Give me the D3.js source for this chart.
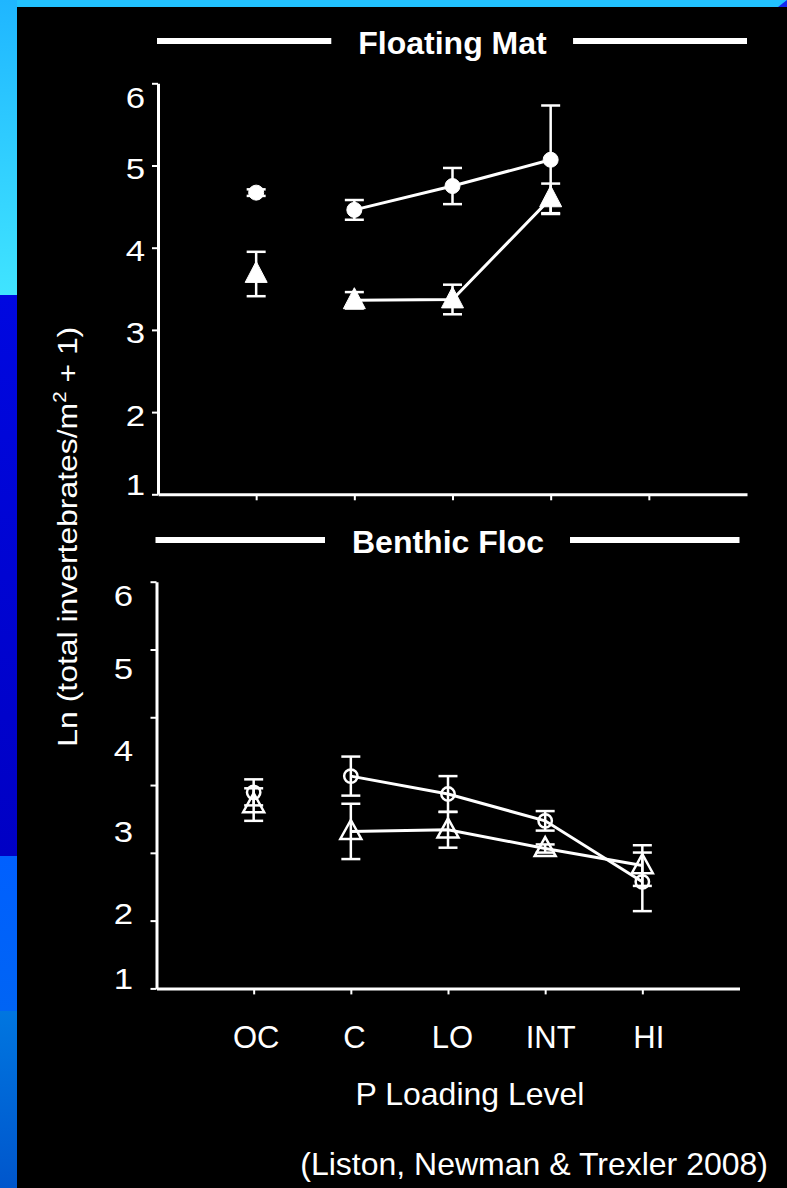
<!DOCTYPE html>
<html>
<head>
<meta charset="utf-8">
<script src="https://cdn.jsdelivr.net/npm/d3@7"></script>
<style>
  html, body { margin: 0; padding: 0; background: #000; }
  svg { display: block; }
  text { font-family: "Liberation Sans", Arial, Helvetica, sans-serif; fill: #fff; }
</style>
</head>
<body>
<svg id="chart" width="787" height="1188"></svg>
<script>
// ---------------- data ----------------
const categories = ["OC", "C", "LO", "INT", "HI"];
const yTickLabels = [1, 2, 3, 4, 5, 6];

// Floating Mat (filled symbols)
const matCircle      = [4.67, 4.46, 4.75, 5.07, null];
const matCircleErr   = [0.04, 0.12, 0.22, 0.66, null];
const matTriangle    = [3.68, 3.36, 3.37, 4.60, null];
const matTriangleErr = [0.27, 0.10, 0.18, 0.18, null];

// Benthic Floc (open symbols)
const flocCircle      = [3.41, 3.61, 3.39, 3.06, 2.31];
const flocCircleErr   = [0.16, 0.24, 0.22, 0.12, 0.36];
const flocTriangle    = [3.26, 2.93, 2.95, 2.72, 2.51];
const flocTriangleErr = [0.20, 0.34, 0.22, 0.05, 0.25];

const panelTitles = ["Floating Mat", "Benthic Floc"];
const xAxisTitle = "P Loading Level";
const citation = "(Liston, Newman & Trexler 2008)";

// ---------------- drawing ----------------
const W = 787, H = 1188;
const svg = d3.select("#chart");

// background
svg.append("rect").attr("x", 0).attr("y", 0).attr("width", W).attr("height", H).attr("fill", "#000");
const defs = svg.append("defs");
function vgrad(id, c1, c2) {
  const g = defs.append("linearGradient").attr("id", id).attr("x1", 0).attr("y1", 0).attr("x2", 0).attr("y2", 1);
  g.append("stop").attr("offset", "0%").attr("stop-color", c1);
  g.append("stop").attr("offset", "100%").attr("stop-color", c2);
}
vgrad("g1", "#1fb6ff", "#40e4ff");
vgrad("g2", "#0008e0", "#0000c4");
vgrad("g3", "#0060ff", "#0064f4");
vgrad("g4", "#0076e0", "#0056cc");
svg.append("rect").attr("x", 0).attr("y", 0).attr("width", W).attr("height", 7).attr("fill", "#22c2ff");
svg.append("rect").attr("x", 0).attr("y", 0).attr("width", 17).attr("height", 296).attr("fill", "url(#g1)");
svg.append("rect").attr("x", 0).attr("y", 295).attr("width", 17).attr("height", 562).attr("fill", "url(#g2)");
svg.append("rect").attr("x", 0).attr("y", 856).attr("width", 17).attr("height", 156).attr("fill", "url(#g3)");
svg.append("rect").attr("x", 0).attr("y", 1011).attr("width", 17).attr("height", 177).attr("fill", "url(#g4)");
svg.append("path").attr("d", "M778,7L787,0L787,7Z").attr("fill", "#1428f0");

const panels = [
  { title: panelTitles[0], xRange: [158, 747], yRange: [494.3, 83.3], filled: true,
    circle: matCircle, circleErr: matCircleErr, tri: matTriangle, triErr: matTriangleErr,
    titleY: 41, labelDy: 3, labelX: 145, yTicks: yTickLabels,
    triW: 22, triH: 21, r: 7.5 },
  { title: panelTitles[1], xRange: [156.5, 739.5], yRange: [988.4, 581.7], filled: false,
    circle: flocCircle, circleErr: flocCircleErr, tri: flocTriangle, triErr: flocTriangleErr,
    titleY: 540, labelDy: 6, labelX: 133, yTicks: d3.range(7).map(k => 1 + k * 5 / 6),
    triW: 21, triH: 19, r: 6.7 }
];

let topX = null;

panels.forEach((p, pi) => {
  const x = d3.scaleLinear().domain([0, 6]).range(p.xRange);
  const y = d3.scaleLinear().domain([1, 6]).range(p.yRange);
  if (pi === 0) topX = x;
  const g = svg.append("g");

  // axes
  const yAxis = d3.axisLeft(y).tickValues(p.yTicks).tickSize(6).tickSizeOuter(0).tickFormat("");
  const ya = g.append("g").attr("transform", `translate(${x(0)},0)`).call(yAxis).attr("color", "#fff");
  ya.select(".domain").attr("stroke-width", 3);
  ya.selectAll(".tick line").attr("stroke-width", 2);

  const xAxis = d3.axisBottom(x).tickValues([1, 2, 3, 4, 5]).tickSize(6).tickSizeOuter(0).tickFormat("");
  const xa = g.append("g").attr("transform", `translate(0,${y(1)})`).call(xAxis).attr("color", "#fff");
  xa.select(".domain").attr("stroke-width", 3);
  xa.selectAll(".tick line").attr("stroke-width", 2);

  // y tick labels (end labels kept inside the axis span); glyphs drawn slightly wide as in the slide
  const yTop = y(6), yBot = y(1);
  g.selectAll("text.ylab").data(yTickLabels).join("text")
    .attr("class", "ylab")
    .attr("transform", v => `translate(${p.labelX},${Math.max(yTop + 14, Math.min(yBot - 10, y(v) + p.labelDy))}) scale(1.2,1)`)
    .attr("dy", "0.36em")
    .attr("text-anchor", "end")
    .attr("font-size", 29)
    .text(d => d);

  // panel title with rules
  const cx = (x(0) + x(6)) / 2;
  const t = g.append("text").attr("x", cx).attr("y", p.titleY + 12.5)
    .attr("text-anchor", "middle").attr("font-size", 32).attr("font-weight", "bold").text(p.title);
  const bb = t.node().getBBox();
  g.append("line").attr("x1", x(0) - 1).attr("x2", bb.x - 27).attr("y1", p.titleY).attr("y2", p.titleY)
    .attr("stroke", "#fff").attr("stroke-width", 6);
  g.append("line").attr("x1", bb.x + bb.width + 26).attr("x2", x(6)).attr("y1", p.titleY).attr("y2", p.titleY)
    .attr("stroke", "#fff").attr("stroke-width", 6);

  // series
  const series = [
    { vals: p.tri, err: p.triErr, shape: "tri" },
    { vals: p.circle, err: p.circleErr, shape: "circle" }
  ];
  const line = d3.line()
    .defined((d, i) => i > 0 && d != null)
    .x((d, i) => x(i + 1)).y(d => y(d));

  series.forEach(s => {
    g.append("path").datum(s.vals).attr("d", line)
      .attr("fill", "none").attr("stroke", "#fff").attr("stroke-width", 3);
  });

  series.forEach(s => {
    const pts = s.vals.map((v, i) => ({ v, e: s.err[i], i })).filter(d => d.v != null);
    // error bars
    const eb = g.append("g").attr("stroke", "#fff").attr("stroke-width", 2.5);
    pts.forEach(d => {
      const px = x(d.i + 1), y1 = y(d.v + d.e), y0 = y(d.v - d.e);
      eb.append("line").attr("x1", px).attr("x2", px).attr("y1", y1).attr("y2", y0);
      eb.append("line").attr("x1", px - 9.5).attr("x2", px + 9.5).attr("y1", y1).attr("y2", y1);
      eb.append("line").attr("x1", px - 9.5).attr("x2", px + 9.5).attr("y1", y0).attr("y2", y0);
    });
    // markers
    const mk = g.append("g")
      .attr("fill", p.filled ? "#fff" : "none")
      .attr("stroke", "#fff").attr("stroke-width", p.filled ? 1 : 2.5);
    pts.forEach(d => {
      const px = x(d.i + 1), py = y(d.v);
      if (s.shape === "circle") {
        mk.append("circle").attr("cx", px).attr("cy", py).attr("r", p.r);
      } else {
        const w = p.triW / 2, h = p.triH;
        mk.append("path").attr("d",
          `M${px},${py - 0.6 * h}L${px + w},${py + 0.4 * h}L${px - w},${py + 0.4 * h}Z`);
      }
    });
  });
});

// category labels
svg.selectAll("text.cat").data(categories).join("text")
  .attr("class", "cat")
  .attr("x", (d, i) => topX(i + 1))
  .attr("y", 1048)
  .attr("text-anchor", "middle")
  .attr("font-size", 31)
  .text(d => d);

svg.append("text").attr("x", 470).attr("y", 1105).attr("text-anchor", "middle")
  .attr("font-size", 32).text(xAxisTitle);

svg.append("text").attr("x", 768).attr("y", 1175).attr("text-anchor", "end")
  .attr("font-size", 32).text(citation);

// y axis title (rotated, stretched to the reference length)
const yt = svg.append("text").attr("text-anchor", "middle").attr("font-size", 28);
yt.append("tspan").text("Ln (total invertebrates/m");
yt.append("tspan").attr("font-size", 18).attr("dy", -11).text("2");
yt.append("tspan").attr("dy", 11).text(" + 1)");
const len = yt.node().getComputedTextLength();
const sx = 420 / len;
yt.attr("transform", `translate(77,536.7) rotate(-90) scale(${sx},1)`);
</script>
</body>
</html>
